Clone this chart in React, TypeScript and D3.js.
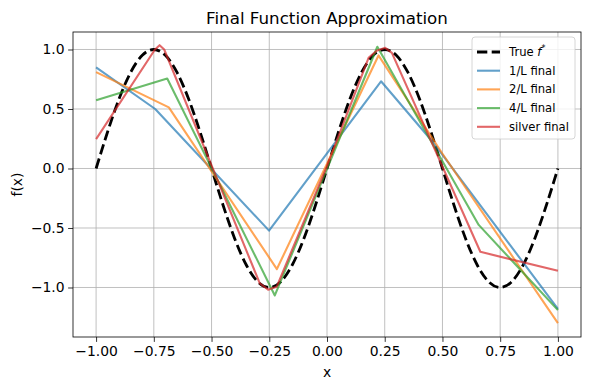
import React, { useRef, useEffect } from 'react'
import * as d3 from 'd3'

// true function, every 0.05
const trueX = [-1, -0.95, -0.9, -0.85, -0.8, -0.75, -0.7, -0.65, -0.6, -0.55, -0.5, -0.45, -0.4, -0.35, -0.3, -0.25, -0.2, -0.15, -0.1, -0.05,
  0, 0.05, 0.1, 0.15, 0.2, 0.25, 0.3, 0.35, 0.4, 0.45, 0.5, 0.55, 0.6, 0.65, 0.7, 0.75, 0.8, 0.85, 0.9, 0.95, 1]
const trueY = [0, 0.309, 0.588, 0.809, 0.951, 1, 0.951, 0.809, 0.588, 0.309, 0, -0.309, -0.588, -0.809, -0.951, -1, -0.951, -0.809, -0.588, -0.309,
  0, 0.309, 0.588, 0.809, 0.951, 1, 0.951, 0.809, 0.588, 0.309, 0, -0.309, -0.588, -0.809, -0.951, -1, -0.951, -0.809, -0.588, -0.309, 0]

// piecewise linear fits (breakpoints)
const oneX = [-1, -0.744, -0.251, 0.234, 0.462, 1]
const oneY = [0.85, 0.5, -0.522, 0.733, 0.214, -1.18]
const twoX = [-1, -0.685, -0.217, 0.223, 0.498, 1]
const twoY = [0.81, 0.514, -0.845, 0.95, 0.13, -1.3]
const fourX = [-1, -0.692, -0.226, 0.218, 0.657, 1]
const fourY = [0.573, 0.756, -1.067, 1.023, -0.474, -1.19]
const silverX = [-1, -0.745, -0.725, -0.705, -0.291, -0.255, -0.218, 0.0, 0.18, 0.215, 0.252, 0.281, 0.664, 1]
const silverY = [0.247, 1.0, 1.036, 1.0, -0.966, -1.018, -0.994, 0.02, 0.93, 0.99, 1.014, 0.972, -0.70, -0.86]

const seriesNames = ['1/L final', '2/L final', '4/L final', 'silver final']
const seriesColors = ['#1f77b4', '#ff7f0e', '#2ca02c', '#d62728']

const xTicks = [-1, -0.75, -0.5, -0.25, 0, 0.25, 0.5, 0.75, 1]
const yTicks = [-1, -0.5, 0, 0.5, 1]

const width = 590
const height = 390
const margin = { left: 73, right: 9, top: 32, bottom: 53 }
const font = 'DejaVu Sans, sans-serif'

const fmt = (v: number, d: number) => v.toFixed(d).replace('-', '\u2212')

const App = () => {
  const svgRef = useRef<SVGSVGElement>(null)

  useEffect(() => {
    const svg = d3.select(svgRef.current)
    svg.selectAll('*').remove()

    const x = d3.scaleLinear().domain([-1.1, 1.1]).range([margin.left, width - margin.right])
    const y = d3.scaleLinear().domain([-1.416, 1.147]).range([height - margin.bottom, margin.top])

    const plot = svg.append('g')

    // grid
    plot.selectAll('.gx').data(xTicks).join('line')
      .attr('x1', d => x(d)).attr('x2', d => x(d))
      .attr('y1', margin.top).attr('y2', height - margin.bottom)
      .attr('stroke', '#b0b0b0').attr('stroke-width', 0.8)
    plot.selectAll('.gy').data(yTicks).join('line')
      .attr('y1', d => y(d)).attr('y2', d => y(d))
      .attr('x1', margin.left).attr('x2', width - margin.right)
      .attr('stroke', '#b0b0b0').attr('stroke-width', 0.8)

    const ln = d3.line<[number, number]>().x(d => x(d[0])).y(d => y(d[1]))

    const trueData: [number, number][] = trueX.map((v, i) => [v, trueY[i]])
    const fits = [[oneX, oneY], [twoX, twoY], [fourX, fourY], [silverX, silverY]]

    plot.append('path')
      .attr('d', d3.line<[number, number]>().x(d => x(d[0])).y(d => y(d[1])).curve(d3.curveNatural)(trueData))
      .attr('fill', 'none').attr('stroke', 'black').attr('stroke-width', 2.8)
      .attr('stroke-dasharray', '10.3,4.4')

    fits.forEach(([xs, ys], i) => {
      const data: [number, number][] = xs.map((v, j) => [v, ys[j]])
      plot.append('path')
        .attr('d', ln(data))
        .attr('fill', 'none')
        .attr('stroke', seriesColors[i])
        .attr('stroke-opacity', 0.7)
        .attr('stroke-width', 2.1)
        .attr('stroke-linejoin', 'round')
    })

    // frame
    svg.append('rect')
      .attr('x', margin.left).attr('y', margin.top)
      .attr('width', width - margin.left - margin.right)
      .attr('height', height - margin.top - margin.bottom)
      .attr('fill', 'none').attr('stroke', 'black').attr('stroke-width', 0.8)

    // axes
    const xAxis = d3.axisBottom(x).tickValues(xTicks).tickSize(4.9).tickPadding(4).tickFormat(d => fmt(+d, 2))
    const yAxis = d3.axisLeft(y).tickValues(yTicks).tickSize(4.9).tickPadding(3.5).tickFormat(d => fmt(+d, 1))
    const gx = svg.append('g').attr('transform', `translate(0,${height - margin.bottom})`).call(xAxis)
    const gy = svg.append('g').attr('transform', `translate(${margin.left},0)`).call(yAxis)
    ;[gx, gy].forEach(g => {
      g.select('.domain').remove()
      g.selectAll('line').attr('stroke', 'black').attr('stroke-width', 0.8)
      g.selectAll('text').attr('fill', 'black').style('font-family', font).style('font-size', '13.9px')
    })

    svg.append('text')
      .attr('x', x(0)).attr('y', 24)
      .attr('text-anchor', 'middle')
      .style('font-family', font).style('font-size', '16.7px')
      .text('Final Function Approximation')

    svg.append('text')
      .attr('x', x(0)).attr('y', 377)
      .attr('text-anchor', 'middle')
      .style('font-family', font).style('font-size', '13.9px')
      .text('x')

    svg.append('text')
      .attr('transform', `translate(22,${(margin.top + height - margin.bottom) / 2}) rotate(-90)`)
      .attr('text-anchor', 'middle')
      .style('font-family', font).style('font-size', '13.9px')
      .text('f(x)')

    // legend
    const lg = svg.append('g').attr('transform', 'translate(472,37)')
    lg.append('rect')
      .attr('width', 103).attr('height', 102).attr('rx', 3)
      .attr('fill', 'white').attr('fill-opacity', 0.8)
      .attr('stroke', '#cccccc').attr('stroke-width', 0.8)
    const rowY = (i: number) => 15 + i * 18.7
    lg.append('line')
      .attr('x1', 5).attr('x2', 28).attr('y1', rowY(0)).attr('y2', rowY(0))
      .attr('stroke', 'black').attr('stroke-width', 2.8).attr('stroke-dasharray', '10.3,4.4')
    const t0 = lg.append('text').attr('x', 37).attr('y', rowY(0) + 4)
      .style('font-family', font).style('font-size', '11.6px')
    t0.append('tspan').text('True ')
    t0.append('tspan').style('font-style', 'italic').text('f')
    t0.append('tspan').attr('dy', -5).style('font-size', '8px').text('*')
    seriesNames.forEach((name, i) => {
      lg.append('line')
        .attr('x1', 5).attr('x2', 28).attr('y1', rowY(i + 1)).attr('y2', rowY(i + 1))
        .attr('stroke', seriesColors[i]).attr('stroke-opacity', 0.7).attr('stroke-width', 2.1)
      lg.append('text').attr('x', 37).attr('y', rowY(i + 1) + 4)
        .style('font-family', font).style('font-size', '11.6px')
        .text(name)
    })
  }, [])

  return (
    <svg ref={svgRef} width={width} height={height}
      style={{ position: 'absolute', left: 0, top: 0, background: 'white' }} />
  )
}

export default App
